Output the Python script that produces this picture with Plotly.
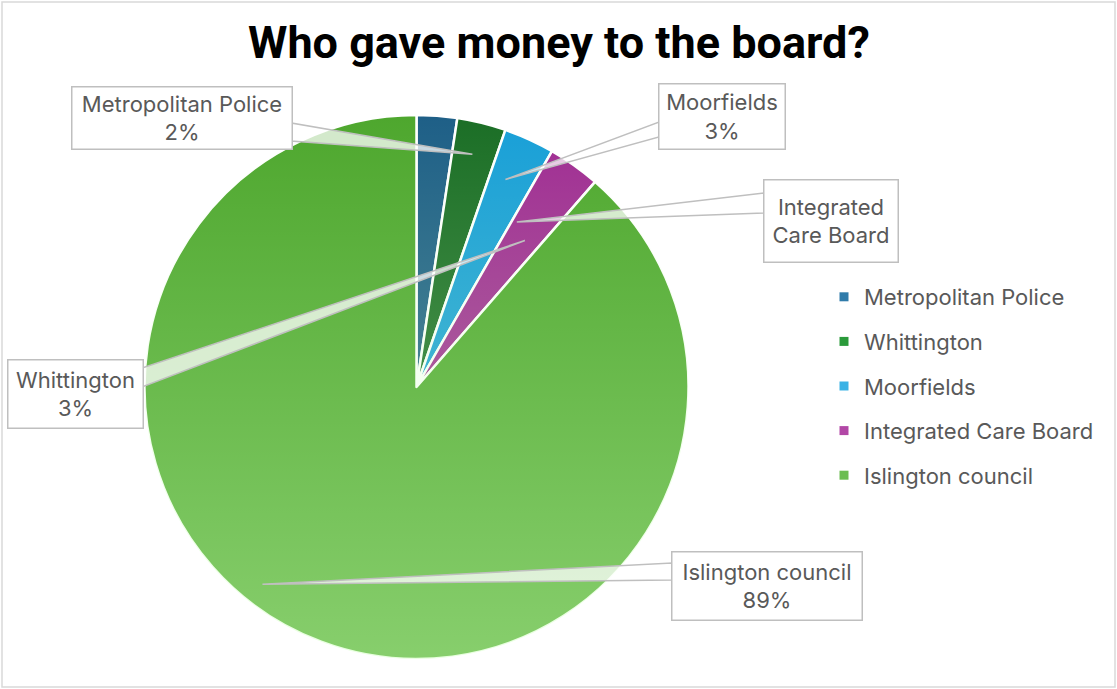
import base64
import math
import plotly.graph_objects as go

# ---------------- data ----------------
categories = ["Metropolitan Police", "Whittington", "Moorfields",
              "Integrated Care Board", "Islington council"]
shares = [2.4, 2.9, 3.0, 3.1, 88.6]          # percent of total
slice_colors = ["#1E5F87", "#1B6E26", "#189FD8", "#A02B93", "#4EA72E"]
legend_colors = ["#2F7BAA", "#2A9A3A", "#3AB2E5", "#B247A6", "#6CBD52"]
title_text = "Who gave money to the board?"

# callout label texts (as shown on the chart)
callout_names = ["Metropolitan Police", "Moorfields", "Integrated<br>Care Board",
                 "Whittington", "Islington council"]
callout_shares = [2.4, 3.0, None, 2.9, 88.6]

# ---------------- layout helpers ----------------
W, H = 1117, 689
def px(x):
    return x / W
def py(y):
    return 1 - y / H

CX, CY, R = 416.5, 387.0, 272.0
TEXT = "#595959"
FONT = "Inter, Noto Sans, sans-serif"
FS = 22

fig = go.Figure()

fig.add_trace(go.Pie(
    labels=categories, values=shares, sort=False, direction="clockwise",
    rotation=0, textinfo="none", hoverinfo="label+percent",
    marker=dict(colors=slice_colors, line=dict(color="white", width=2.5)),
    domain=dict(x=[px(CX - R), px(CX + R)], y=[py(CY + R), py(CY - R)]),
    showlegend=False,
))

# legend via marker-only traces
for name, col in zip(categories, legend_colors):
    fig.add_trace(go.Scatter(
        x=[None], y=[None], mode="markers", name=name, legendgroup=name,
        marker=dict(symbol="square", size=9, color=col,
                    line=dict(color=col, width=0)),
        showlegend=True, hoverinfo="skip"))

# gradient overlay (vertical light tint over pie)
svg = (
    "<svg xmlns='http://www.w3.org/2000/svg' width='544' height='544' viewBox='0 0 544 544'>"
    "<defs><linearGradient id='g' x1='0' y1='0' x2='0' y2='1'>"
    "<stop offset='0' stop-color='rgb(205,255,185)' stop-opacity='0'/>"
    "<stop offset='1' stop-color='rgb(205,255,185)' stop-opacity='0.45'/>"
    "</linearGradient></defs>"
    "<circle cx='272' cy='272' r='272' fill='url(#g)'/></svg>"
)
src = "data:image/svg+xml;base64," + base64.b64encode(svg.encode()).decode()

# callout boxes: (centre x, centre y, width, height) in px; leader tip (angle deg, radius frac);
# leader base on box edge: (edge x, y1, y2)
boxes = [
    (181.5, 117.5, 219, 61), (721.5, 116.0, 125, 64), (830.5, 220.5, 133, 81),
    (75.0, 393.5, 134, 67), (766.5, 585.5, 189, 67)]
tips = [(13.5, 0.88), (23.2, 0.83), (31.3, 0.71), (36.5, 0.67), (218.0, 0.92)]
bases = [(291, 123, 141), (659, 122, 137), (764, 193, 213),
         (142, 368, 387), (672, 563, 580)]

shapes = []
annotations = []
for (bx, by, bw, bh), (ang, rf), (ex, y1, y2), nm, sh in zip(
        boxes, tips, bases, callout_names, callout_shares):
    a = math.radians(ang)
    tx = CX + rf * R * math.sin(a)
    ty = CY - rf * R * math.cos(a)
    path = "M {:.5f},{:.5f} L {:.5f},{:.5f} L {:.5f},{:.5f} Z".format(
        px(tx), py(ty), px(ex), py(y1), px(ex), py(y2))
    shapes.append(dict(type="path", path=path, xref="paper", yref="paper",
                       fillcolor="rgba(255,255,255,0.75)",
                       line=dict(color="#BFBFBF", width=1.5), layer="above"))
    txt = nm if sh is None else "{}<br>{:.0f}%".format(nm, sh)
    annotations.append(dict(
        text=txt, x=px(bx), y=py(by), xref="paper", yref="paper",
        xanchor="center", yanchor="middle", showarrow=False,
        width=bw, height=bh, borderpad=0, bgcolor="white",
        bordercolor="#BFBFBF", borderwidth=1.5,
        font=dict(family=FONT, size=FS, color=TEXT)))

annotations.append(dict(
    text="<b>" + title_text + "</b>", x=0.5, y=py(42), xref="paper", yref="paper",
    xanchor="center", yanchor="middle", showarrow=False,
    font=dict(family="Roboto, sans-serif", size=45, color="black")))

# chart border
shapes.append(dict(type="rect", xref="paper", yref="paper",
                   x0=px(2), x1=px(1115), y0=py(687), y1=py(2),
                   line=dict(color="#D9D9D9", width=1.5), layer="below"))

fig.update_layout(
    width=W, height=H, margin=dict(l=0, r=0, t=0, b=0),
    paper_bgcolor="white", plot_bgcolor="white",
    xaxis=dict(visible=False), yaxis=dict(visible=False),
    images=[dict(source=src, xref="paper", yref="paper",
                 x=px(CX - R), y=py(CY - R), sizex=2 * R / W, sizey=2 * R / H,
                 xanchor="left", yanchor="top", sizing="stretch", layer="above")],
    shapes=shapes, annotations=annotations,
    legend=dict(x=px(824), y=py(276), xanchor="left", yanchor="top",
                font=dict(family=FONT, size=FS, color=TEXT),
                tracegroupgap=13, bgcolor="rgba(0,0,0,0)"),
)

fig.write_html("out.html", config={"displayModeBar": False},
               post_script="document.body.style.margin='0';"
                           "document.body.style.overflow='hidden';")
